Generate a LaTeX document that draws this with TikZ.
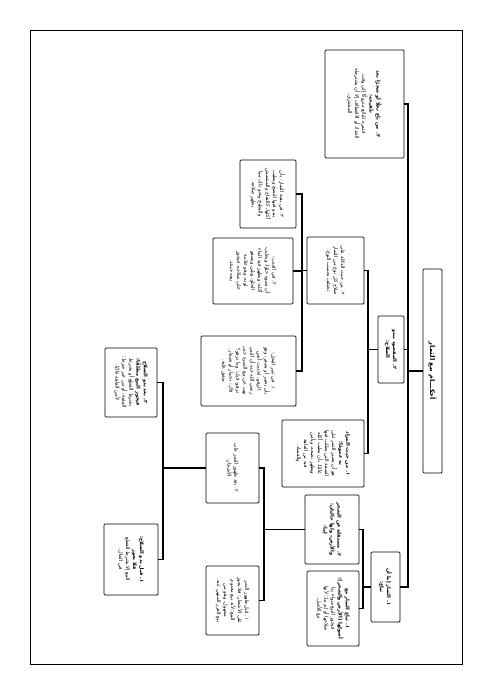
\documentclass[tikz,border=0pt]{standalone}
\usepackage{fontspec}
\newfontfamily\arabicfont[Script=Arabic]{DejaVu Sans}
\TeXXeTstate=1
\newcommand{\arline}[1]{\beginR #1\endR}
\newcommand{\arbold}[1]{{\bfseries\beginR #1\endR}}

\begin{document}
\begin{tikzpicture}[x=0.05cm, y=0.05cm,
    box/.style={draw, line width=1.1pt, rounded corners=1.5pt, inner sep=1pt, align=center,
        font=\arabicfont\fontsize{7.2}{10}\selectfont},
    boxsize/.style 2 args={minimum width=#1*0.05cm, minimum height=#2*0.05cm},
    link/.style={line width=1.6pt}]
\begin{scope}[rotate=-90, transform shape]
    \useasboundingbox (0,0) rectangle (694,491);
    \draw[line width=1.3pt] (30,30) rectangle (664,462);

    % Declare the boxes
    \node[box, boxsize={204}{19}, font=\arabicfont\bfseries\fontsize{9.5}{11}\selectfont] at (371, 432.5) (root) {\arline{أحكـــام بيع الثمار}};
    \node[box, boxsize={108}{79}] at (104, 364.5) (c3) {\arbold{٣. من باع نخلًا أو شجرًا بعد}\\\arbold{تلقيحه:}\\\arline{فثمره للبائع متروكًا إلى وقت}\\\arline{الجذاذ أو الاقتطاف إلا أن يشترطه}\\\arline{المشتري.}};
    \node[box, boxsize={67}{26}] at (349.5, 391) (c2) {\arbold{٢. المقصود ببدو}\\\arbold{الصلاح:}};
    \node[box, boxsize={70}{29}] at (587, 385.5) (c1) {\arbold{١. الثمار إما أن}\\\arbold{تباع:}};

    \node[box, boxsize={67}{82}] at (453.5, 323) (c2b) {\arbold{١. من حيث المراد}\\\arbold{به عمومًا:}\\\arline{هو أن يصير الثمر على}\\\arline{الصفة التي يطلب فيها}\\\arline{غالبًا، بأن يطيب أكله}\\\arline{ويظهر نضجه، ويأمن}\\\arline{فيه من العاهة}\\\arline{والفساد.}};
    \node[box, boxsize={67}{57}] at (270.5, 335.5) (c2a) {\arline{٢. من حيث الدلالة على}\\\arline{صلاح كل نوع من الثمار}\\\arline{تختلف بحسب النوع:}};

    \node[box, boxsize={68}{56}] at (194, 268) (g1) {\arline{٣. في بقية الثمار: بأن}\\\arline{يبدو فيها النضج ويطيب}\\\arline{أكلها، كالتفاح والمشمش}\\\arline{والبطيخ ونحو ذلك مما}\\\arline{يظهر صلاحه.}};
    \node[box, boxsize={66}{80}] at (271, 253) (g2) {\arline{٢. في العنب:}\\\arline{أن يتموه حلوًا، ويطيب}\\\arline{أكله، ويظهر فيه الماء}\\\arline{الحلو، ويلين ويصفو}\\\arline{لونه، وهو علامة}\\\arline{على صلاحه، فيجوز}\\\arline{بيعه حينئذ.}};
    \node[box, boxsize={70}{95}] at (371, 248.5) (g3) {\arline{١. في ثمر النخل:}\\\arline{بأن يحمر أو يصفر، وهو}\\\arline{الزهو، لحديث أنس}\\\arline{رضي الله عنه أن النبي}\\\arline{نهى عن بيع الثمرة حتى}\\\arline{تزهو، قيل: وما تزهو؟}\\\arline{قال: تحمار أو تصفار.}\\\arline{متفق عليه.}};

    \node[box, boxsize={75}{52}] at (608.5, 333) (c1a) {\arbold{١. تباع الثمار مع}\\\arbold{أصولها (الأرض والشجر):}\\\arline{فيجوز البيع سواء بدا}\\\arline{صلاحها أو لم يبدُ؛ لأنها}\\\arline{تبع للأصل.}};
    \node[box, boxsize={69}{54}] at (529.5, 332) (c1b) {\arbold{٢. مستقلة عن الشجر}\\\arbold{والأرض، ولها حالتان:}\\\arbold{إما:}};

    \node[box, boxsize={69}{53}] at (600.5, 232.5) (d1) {\arline{١. قبل ظهور الثمر}\\\arline{على الأشجار: فلا يجوز}\\\arline{البيع؛ لأنه بيع معدوم}\\\arline{مجهول، وهو من}\\\arline{بيع الغرر المنهي عنه.}};
    \node[box, boxsize={70}{53}] at (468, 232.5) (d2) {\arline{٢. بعد ظهور الثمر على}\\\arline{الأشجار:}};

    \node[box, boxsize={69}{52}] at (382.5, 131) (e1) {\arbold{٢. بعد بدو الصلاح}\\\arbold{فيجوز البيع مطلقًا:}\\\arline{بشرط القطع أو بشرط}\\\arline{التبقية، أو من غير شرط؛}\\\arline{لأمن العاهة غالبًا.}};
    \node[box, boxsize={71}{54}] at (559.5, 131) (e2) {\arbold{١. قبل بدو الصلاح:}\\\arbold{فلا يجوز}\\\arline{البيع إلا بشرط القطع}\\\arline{في الحال.}};

    % Declare the bus lines
    \coordinate (busA) at (0, 408);
    \coordinate (busB) at (0, 368);
    \coordinate (busC) at (0, 302);
    \coordinate (busD) at (0, 363);
    \coordinate (busE) at (0, 264);
    \coordinate (busF) at (0, 163);

    % Declare edges
    \draw[link] (root.south) -- (root.south |- busA);
    \draw[link] (c3.north) |- (busA -| c1.north) -- (c1.north);
    \draw[link] (c2.north) -- (c2.north |- busA);

    \draw[link] (c2.south) -- (c2.south |- busB);
    \draw[link] (c2a.north) |- (busB -| c2b.north) -- (c2b.north);

    \draw[link] (c2a.south) -- (c2a.south |- busC);
    \draw[link] (g1.north) |- (busC -| g3.north) -- (g3.north);
    \draw[link] (g2.north) -- (g2.north |- busC);

    \draw[link] (c1.south) -- (c1.south |- busD);
    \draw[link] (c1b.north) |- (busD -| c1a.north) -- (c1a.north);

    \draw[link] (c1b.south) -- (c1b.south |- busE);
    \draw[link] (d2.north) |- (busE -| d1.north) -- (d1.north);

    \draw[link] (d2.south) -- (d2.south |- busF);
    \draw[link] (e1.north) |- (busF -| e2.north) -- (e2.north);
\end{scope}
\end{tikzpicture}
\end{document}
